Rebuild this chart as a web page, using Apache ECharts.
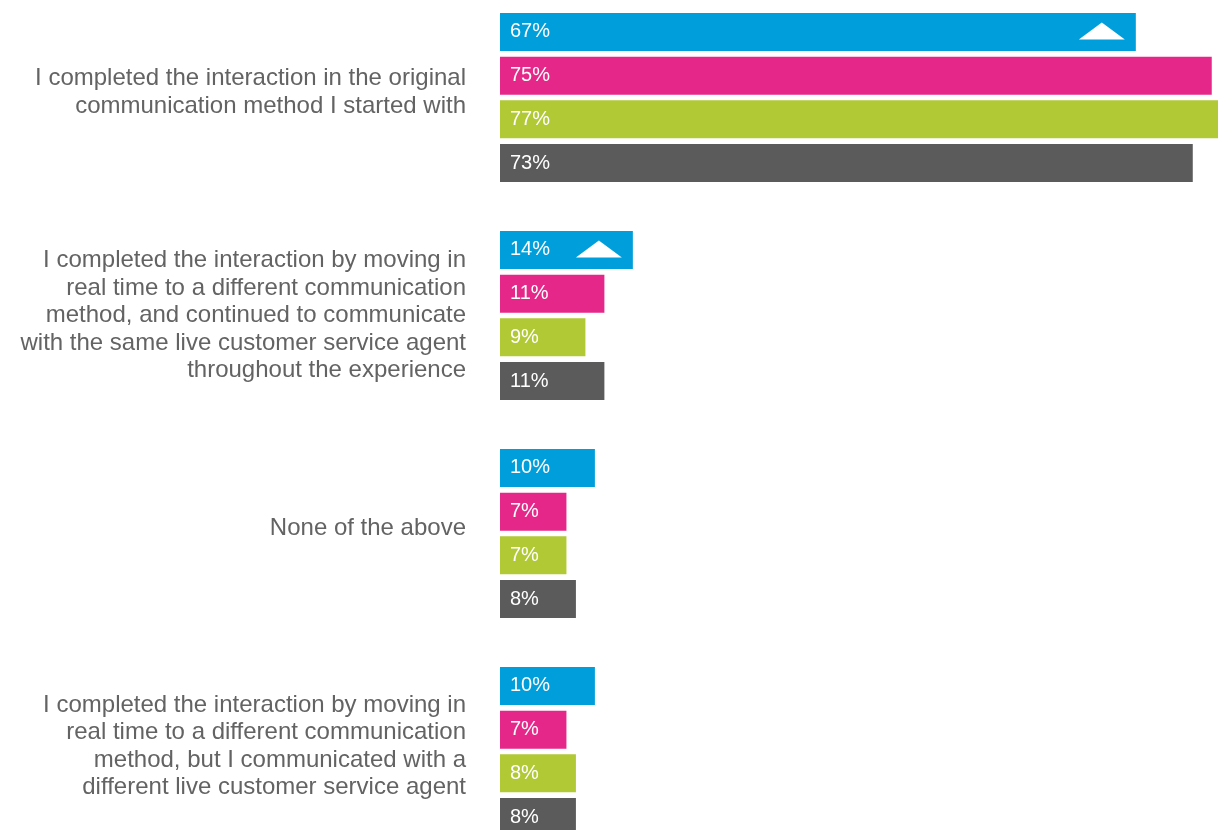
<!DOCTYPE html>
<html>
<head>
<meta charset="utf-8">
<script src="https://cdn.jsdelivr.net/npm/echarts@6/dist/echarts.min.js"></script>
<style>
  html, body { margin: 0; padding: 0; background: #ffffff; }
  #chart { width: 1218px; height: 830px; }
</style>
</head>
<body>
<div id="chart"></div>
<script>
// Survey responses: how the interaction was completed
const categories = [
  'I completed the interaction in the original\ncommunication method I started with',
  'I completed the interaction by moving in\nreal time to a different communication\nmethod, and continued to communicate\nwith the same live customer service agent\nthroughout the experience',
  'None of the above',
  'I completed the interaction by moving in\nreal time to a different communication\nmethod, but I communicated with a\ndifferent live customer service agent'
];

const seriesA = [67, 14, 10, 10];
const seriesB = [75, 11, 7, 7];
const seriesC = [77, 9, 7, 8];
const seriesD = [73, 11, 8, 8];

// categories flagged with an upward-change marker on the first series
const upMarks = [0, 1];

const colors = ['#009FDB', '#E5278A', '#B1C935', '#5B5B5B'];

const chart = echarts.init(document.getElementById('chart'));

function barSeries(name, data, color, extra) {
  return Object.assign({
    name: name,
    type: 'bar',
    data: data,
    barWidth: 38,
    barGap: '15%',
    itemStyle: { color: color },
    label: {
      show: true,
      position: 'insideLeft',
      distance: 10,
      formatter: '{c}%',
      color: '#ffffff',
      fontFamily: '"Liberation Sans", Arial, sans-serif',
      fontSize: 20
    },
    emphasis: { disabled: true },
    animation: false
  }, extra || {});
}

const option = {
  backgroundColor: '#ffffff',
  animation: false,
  grid: {
    left: 500, top: -11.5, height: 872, width: 949,
    outerBoundsMode: 'none',
    containLabel: false
  },
  xAxis: {
    type: 'value',
    min: 0,
    max: 100,
    show: false
  },
  yAxis: {
    type: 'category',
    data: categories,
    inverse: true,
    axisLine: { show: false },
    axisTick: { show: false },
    splitLine: { show: false },
    axisLabel: {
      margin: 34,
      align: 'right',
      color: '#636363',
      fontFamily: '"Liberation Sans", Arial, sans-serif',
      fontSize: 24,
      lineHeight: 27.5,
      // a thin spacer line under each label lifts the text block slightly
      formatter: (value, index) => value + (index === 1 ? '' : '\n{pad|}'),
      rich: {
        pad: { lineHeight: 10, fontSize: 1 }
      }
    }
  },
  series: [
    barSeries('A', seriesA, colors[0], {
      markPoint: {
        symbol: 'triangle',
        symbolSize: [46, 17],
        symbolOffset: [-34, -1],
        itemStyle: { color: '#ffffff' },
        label: { show: false },
        data: upMarks.map(i => ({ coord: [seriesA[i], i] })),
        animation: false
      }
    }),
    barSeries('B', seriesB, colors[1]),
    barSeries('C', seriesC, colors[2]),
    barSeries('D', seriesD, colors[3])
  ]
};

chart.setOption(option);
</script>
</body>
</html>
